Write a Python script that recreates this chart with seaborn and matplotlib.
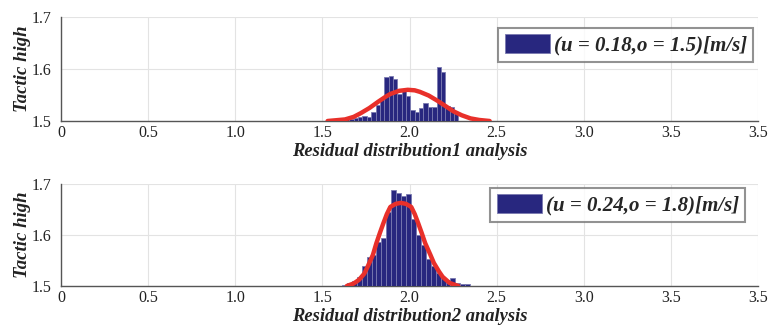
import numpy as np
import pandas as pd
import matplotlib
matplotlib.use("Agg")
import matplotlib.pyplot as plt
import seaborn as sns

# ---------------- data ----------------
x_tick_pos = [0, 0.5, 1.0, 1.5, 2.0, 2.5, 3.0, 3.5, 4.0]
x_tick_labels = ["0", "0.5", "1.0", "1.5", "2.0", "2.5", "3.0", "3.5", "3.5"]
y_ticks = [1.5, 1.6, 1.7]
y_tick_labels = ["1.5", "1.6", "1.7"]

# panel 1 histogram
bins1_start, bins1_width = 1.63, 0.025
heights1 = [1.503, 1.504, 1.506, 1.507, 1.510, 1.508, 1.517, 1.530, 1.545,
            1.585, 1.587, 1.580, 1.552, 1.560, 1.548, 1.522, 1.518, 1.525,
            1.535, 1.526, 1.527, 1.604, 1.595, 1.528, 1.527, 1.515]
# panel 1 fitted curve
curve1_x = [1.53, 1.63, 1.68, 1.72, 1.77, 1.82, 1.86, 1.89, 1.94, 1.99, 2.03,
            2.06, 2.11, 2.16, 2.21, 2.25, 2.30, 2.35, 2.40, 2.46]
curve1_y = [1.500, 1.503, 1.508, 1.515, 1.525, 1.537, 1.546, 1.552, 1.558, 1.560, 1.559,
            1.556, 1.549, 1.539, 1.528, 1.519, 1.511, 1.505, 1.502, 1.500]
label1 = "(u = 0.18,o = 1.5)[m/s]"
xlabel1 = "Residual distribution1 analysis"

# panel 2 histogram
bins2_start, bins2_width = 1.6125, 0.0283
heights2 = [1.502, 1.506, 1.510, 1.518, 1.540, 1.556, 1.560, 1.587, 1.594,
            1.646, 1.688, 1.682, 1.676, 1.680, 1.632, 1.600, 1.580, 1.552,
            1.540, 1.525, 1.516, 1.512, 1.515, 1.506, 1.503, 1.503]
# panel 2 fitted curve
curve2_x = [1.64, 1.68, 1.71, 1.74, 1.76, 1.79, 1.81, 1.83, 1.85, 1.87, 1.89, 1.92,
            1.95, 1.98, 2.01, 2.03, 2.05, 2.07, 2.09, 2.12, 2.14, 2.17, 2.19, 2.23, 2.28]
curve2_y = [1.500, 1.505, 1.512, 1.524, 1.538, 1.561, 1.584, 1.604, 1.623, 1.641, 1.655, 1.661,
            1.663, 1.661, 1.655, 1.641, 1.623, 1.604, 1.584, 1.561, 1.545, 1.528, 1.518, 1.506, 1.500]
label2 = "(u = 0.24,o = 1.8)[m/s]"
xlabel2 = "Residual distribution2 analysis"

ylabel = "Tactic high"

# ---------------- styling ----------------
sns.set_theme(style="white")
plt.rcParams["font.family"] = ["Liberation Serif", "DejaVu Serif"]

BAR = "#28277f"
EDGE = "#7a7ab0"
RED = "#e8302a"
SPINE = "#555555"
GRID = "#e3e3e3"

W, H = 770, 327
L, R = 61, 758
fig = plt.figure(figsize=(7.7, 3.27), dpi=100)
ax1 = fig.add_axes([L / W, 1 - 121 / H, (R - L) / W, 104 / H])
ax2 = fig.add_axes([L / W, 1 - 286 / H, (R - L) / W, 102 / H])


def draw(ax, start, width, heights, cx, cy, label, xlabel, legend_anchor):
    n = len(heights)
    edges = [float(start + width * i) for i in range(n + 1)]
    centers = [(edges[i] + edges[i + 1]) / 2 for i in range(n)]
    df = pd.DataFrame({"x": centers, "h": heights})
    sns.histplot(data=df, x="x", weights="h", bins=edges, ax=ax,
                 color=BAR, edgecolor=EDGE, linewidth=0.6, alpha=1.0,
                 label=label, zorder=3)
    sns.lineplot(x=cx, y=cy, ax=ax, color=RED, lw=3.2, zorder=4,
                 sort=False, legend=False)
    ax.set_xlim(0, 4)
    ax.set_ylim(1.5, 1.7)
    ax.set_xticks(x_tick_pos)
    ax.set_xticklabels(x_tick_labels, fontsize=11.5)
    ax.set_yticks(y_ticks)
    ax.set_yticklabels(y_tick_labels, fontsize=11.5)
    ax.grid(True, color=GRID, lw=0.8, zorder=0)
    ax.set_axisbelow(True)
    for s in ["top", "right"]:
        ax.spines[s].set_visible(False)
    for s in ["left", "bottom"]:
        ax.spines[s].set_color(SPINE)
        ax.spines[s].set_linewidth(1.0)
    ax.tick_params(axis="x", direction="in", length=4, color=SPINE, pad=3,
                   labelcolor="#222222")
    ax.tick_params(axis="y", direction="in", length=4, color=SPINE, pad=7,
                   labelcolor="#222222")
    ax.set_xlabel(xlabel, fontsize=13.3, fontweight="bold", style="italic",
                  labelpad=1, color="#222222")
    ax.set_ylabel(ylabel, fontsize=13.5, fontweight="bold", style="italic",
                  color="#222222")
    ax.yaxis.set_label_coords(-0.043, 0.5)
    leg = ax.legend(loc="upper right", bbox_to_anchor=legend_anchor,
                    frameon=True, fancybox=False, handlelength=2.2,
                    handleheight=1.0, handletextpad=0.15, borderpad=0.3,
                    borderaxespad=0.0,
                    prop={"family": ["Liberation Serif"], "weight": "bold",
                          "style": "italic", "size": 15})
    leg.get_frame().set_edgecolor("#777777")
    leg.get_frame().set_linewidth(1.5)


draw(ax1, bins1_start, bins1_width, heights1, curve1_x, curve1_y, label1,
     xlabel1, ((753 - L) / (R - L), 1 - 11 / 104))
draw(ax2, bins2_start, bins2_width, heights2, curve2_x, curve2_y, label2,
     xlabel2, ((745 - L) / (R - L), 1 - 4 / 102))

fig.savefig("out.png", dpi=100)
